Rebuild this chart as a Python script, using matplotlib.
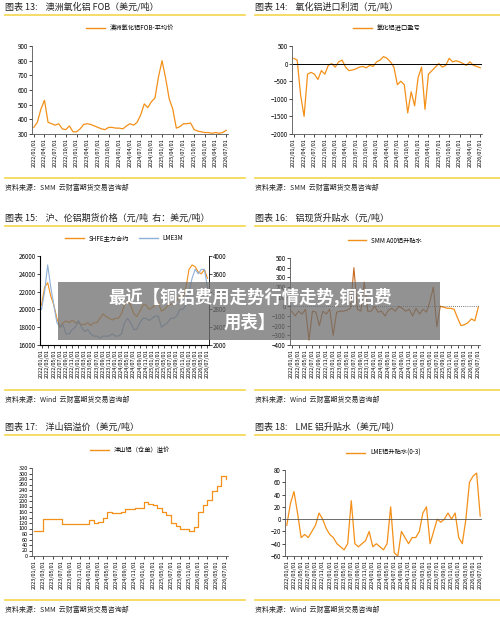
import matplotlib
matplotlib.use("Agg")
import matplotlib.pyplot as plt
from matplotlib.patches import Rectangle
from matplotlib.lines import Line2D

plt.rcParams['font.family'] = ['Noto Sans CJK SC', 'DejaVu Sans']

W, H = 500, 621
ORANGE = '#f39019'
BROWN = '#c8691c'
BLUE = '#8fb0d8'
YEL = '#f5d64a'

def mlabels(start_year, start_month, n, step):
    out = []
    y, m = start_year, start_month
    k = 0
    while k < n:
        out.append((k, f"{y}/{m:02d}/01"))
        m += step; k += step
        while m > 12:
            m -= 12; y += 1
    return out

fob = [345,380,470,530,380,370,360,370,335,330,355,315,
       315,335,365,370,365,355,345,335,330,345,345,340,
       340,335,355,370,360,380,430,505,480,520,545,690,
       800,680,540,470,340,350,370,370,375,330,320,315,
       310,310,305,310,305,310,325]
profit = [150,100,-900,-1500,-300,-250,-300,-450,-200,-300,-50,0,
          -100,50,100,-100,-200,-180,-150,-100,-80,-120,-50,-80,
          50,100,200,150,50,-100,-600,-500,-600,-1400,-800,-1200,
          -400,-100,-1300,-300,-200,-100,0,-100,-50,150,50,80,
          50,0,-50,50,-50,-80,-120]
shfe = [20500,22500,23000,21500,20500,19000,18000,18500,18700,18500,18800,18500,
        18500,18300,18300,18500,18200,18500,18500,19000,19500,19200,19000,18800,
        19000,19000,19500,20500,21000,20500,19500,19200,19800,20500,20500,20000,
        20200,20500,20800,19800,20000,20400,20600,20600,21000,21500,21300,22500,
        24500,25000,24800,24200,24000,24500,23500]
lme = [2800,3200,3800,3300,2900,2500,2400,2450,2250,2250,2350,2400,
       2550,2400,2300,2350,2250,2200,2200,2150,2200,2200,2200,2250,
       2200,2200,2250,2500,2600,2500,2350,2350,2500,2600,2600,2550,
       2600,2650,2650,2400,2450,2500,2600,2600,2650,2800,2800,2900,
       3200,3500,3700,3600,3700,3700,3300]
a00 = [-50,-100,-50,-80,-30,-350,-50,-60,-200,-50,-80,-30,
       -300,-60,-50,-50,-40,-20,400,-30,-50,250,-50,-50,
       0,-60,-50,-100,-40,-20,-50,0,-20,-50,-30,-100,
       -20,-80,-30,-60,50,200,-210,0,-10,-20,-20,-30,
       -120,-200,-190,-170,-130,-150,-10]
yangshan = [90,90,135,135,135,135,115,115,115,115,115,115,
            130,120,125,140,160,155,155,160,170,170,175,175,
            195,190,185,175,160,150,120,110,100,100,90,105,
            160,185,205,235,255,290,280]
lmespread = [-10,25,45,10,-30,-25,-30,-20,-10,10,0,-15,
             -25,-30,-40,-45,-50,-40,30,-40,-45,-40,-35,-20,
             -45,-40,-45,-50,-40,20,-55,-60,-20,-30,-40,-30,
             -30,-20,10,20,-40,-20,0,-5,0,10,0,10,
             -30,-40,0,60,70,75,5]

fig = plt.figure(figsize=(W/100, H/100), dpi=100)

def ax_px(x0, y0, x1, y1):
    return fig.add_axes([x0/W, 1-y1/H, (x1-x0)/W, (y1-y0)/H])

def frame(x0, x1, ytitle, title, yline2, source):
    fig.text(x0/W, 1-ytitle/H, title, fontsize=6.5, va='center', ha='left', color='#222')
    fig.add_artist(Line2D([x0/W, x1/W], [1-(ytitle+8)/H]*2, color=YEL, lw=1.2))
    fig.add_artist(Line2D([x0/W, x1/W], [1-yline2/H]*2, color=YEL, lw=1.2))
    fig.text(x0/W, 1-(yline2+10)/H, source, fontsize=5, va='center', ha='left', color='#222')

def style(ax, xt, ylim, yticks, n):
    ax.set_xlim(-0.5, n-0.5)
    ax.set_ylim(*ylim)
    ax.set_yticks(yticks)
    ax.set_xticks([t for t, _ in xt])
    ax.set_xticklabels([l for _, l in xt], rotation=90, fontsize=4)
    ax.tick_params(axis='y', labelsize=4.5, length=2, width=0.5, pad=1)
    ax.tick_params(axis='x', length=2, width=0.5, pad=1)
    for s in ['top', 'right']:
        ax.spines[s].set_visible(False)
    for s in ['left', 'bottom']:
        ax.spines[s].set_linewidth(0.6)
        ax.spines[s].set_color('#555')

def legend(ax, items, y):
    ax.legend(handles=[Line2D([], [], color=c, lw=1, label=l) for l, c in items],
              loc='center', bbox_to_anchor=(0.5, y), ncol=len(items), frameon=False,
              fontsize=4.5, handlelength=3, columnspacing=1.5)

q = mlabels(2022, 1, 55, 3)
b = mlabels(2022, 1, 55, 2)

# 13
frame(5, 245, 7, "图表 13:    澳洲氧化铝 FOB（美元/吨）", 178, "资料来源：SMM  云财富期货交易咨询部")
ax = ax_px(32, 46, 228, 134)
ax.plot(range(len(fob)), fob, color=ORANGE, lw=0.9)
style(ax, q, (300, 900), range(300, 901, 100), len(fob))
legend(ax, [("澳洲氧化铝FOB-平均价", ORANGE)], 1.2)

# 14
frame(255, 500, 7, "图表 14:    氧化铝进口利润（元/吨）", 178, "资料来源：SMM  云财富期货交易咨询部")
ax = ax_px(292, 46, 482, 134)
ax.plot(range(len(profit)), profit, color=ORANGE, lw=0.9)
ax.axhline(0, color='black', lw=0.7)
style(ax, q, (-2000, 500), range(-2000, 501, 500), len(profit))
legend(ax, [("氧化铝进口盈亏", ORANGE)], 1.2)

# 15
frame(5, 245, 218, "图表 15:    沪、伦铝期货价格（元/吨  右：美元/吨）", 390, "资料来源：Wind  云财富期货交易咨询部")
ax = ax_px(40, 256, 209, 345)
ax.plot(range(len(shfe)), shfe, color=ORANGE, lw=0.8)
style(ax, b, (16000, 26000), range(16000, 26001, 2000), len(shfe))
ax2 = ax.twinx()
ax2.plot(range(len(lme)), lme, color=BLUE, lw=0.8)
ax2.set_ylim(2000, 4000)
ax2.set_yticks(range(2000, 4001, 400))
ax2.tick_params(labelsize=4.5, length=2, width=0.5, pad=1)
ax2.spines['top'].set_visible(False)
ax2.spines['right'].set_linewidth(0.6)
ax.spines['right'].set_visible(False)
legend(ax, [("SHFE主力合约", ORANGE), ("LME3M", BLUE)], 1.2)

# 16
frame(255, 500, 218, "图表 16:    铝现货升贴水（元/吨）", 390, "资料来源：Wind  云财富期货交易咨询部")
ax = ax_px(290, 258, 480, 345)
split = 43
ax.plot(range(split+1), a00[:split+1], color=BROWN, lw=0.8)
ax.plot(range(split, len(a00)), a00[split:], color=ORANGE, lw=0.9)
ax.axhline(0, color='black', lw=0.5, ls=(0, (1, 2)))
style(ax, b, (-400, 500), range(-400, 501, 100), len(a00))
legend(ax, [("SMM A00铝升贴水", ORANGE)], 1.2)

# 17
frame(5, 245, 427, "图表 17:    洋山铝溢价（美元/吨）", 600, "资料来源：SMM  云财富期货交易咨询部")
ax = ax_px(32, 468, 228, 556)
ax.plot(range(len(yangshan)), yangshan, color=ORANGE, lw=0.9, drawstyle='steps-post')
style(ax, mlabels(2023, 1, 43, 2), (0, 320), range(0, 321, 20), len(yangshan))
ax.tick_params(axis='y', labelsize=4)
legend(ax, [("洋山铝（仓单）溢价", ORANGE)], 1.2)

# 18
frame(255, 500, 427, "图表 18:    LME 铝升贴水（美元/吨）", 600, "资料来源：Wind  云财富期货交易咨询部")
ax = ax_px(285, 470, 482, 556)
ax.plot(range(len(lmespread)), lmespread, color=ORANGE, lw=0.9)
ax.axhline(0, color='#555', lw=0.6)
style(ax, b, (-60, 80), range(-60, 81, 20), len(lmespread))
legend(ax, [("LME铝升贴水(0-3)", ORANGE)], 1.2)

# overlay
fig.add_artist(Rectangle((58/W, 1-340/H), 382/W, 58/H, transform=fig.transFigure,
                         facecolor='#6e6e6e', alpha=0.75, edgecolor='none'))
fig.text(250/W, 1-297/H, "最近【铜铝费用走势行情走势,铜铝费", color='white', fontsize=12.5,
         fontweight='bold', ha='center', va='center')
fig.text(250/W, 1-323/H, "用表】", color='white', fontsize=12.5,
         fontweight='bold', ha='center', va='center')

fig.savefig("out.png", dpi=100)
